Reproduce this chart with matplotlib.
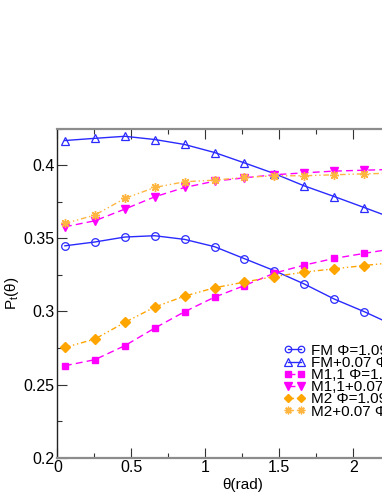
import matplotlib
matplotlib.use("Agg")
import matplotlib.pyplot as plt
from matplotlib.ticker import MultipleLocator, FixedLocator, FixedFormatter

plt.rcParams['font.family'] = ['Liberation Sans', 'DejaVu Sans']
plt.rcParams['mathtext.fontset'] = 'custom'
plt.rcParams['mathtext.rm'] = 'Liberation Sans'
plt.rcParams['mathtext.it'] = 'Liberation Sans'

theta = [0.05, 0.252, 0.455, 0.657, 0.859, 1.062, 1.264, 1.466, 1.668, 1.871, 2.073, 2.275]

fm = [0.3449, 0.3475, 0.3509, 0.3518, 0.3493, 0.3443, 0.3361, 0.3279, 0.3188, 0.3085, 0.2999, 0.2905]
fm_p = [0.4169, 0.4184, 0.4198, 0.4176, 0.4142, 0.4087, 0.4016, 0.3943, 0.3859, 0.3786, 0.3711, 0.3635]
m11 = [0.2629, 0.2670, 0.2766, 0.2886, 0.2998, 0.3098, 0.3177, 0.3262, 0.3317, 0.3363, 0.3397, 0.3430]
m11_p = [0.3579, 0.3620, 0.3700, 0.3784, 0.3848, 0.3891, 0.3914, 0.3935, 0.3948, 0.3960, 0.3966, 0.3972]
m2 = [0.2754, 0.2811, 0.2925, 0.3030, 0.3105, 0.3162, 0.3201, 0.3239, 0.3269, 0.3292, 0.3314, 0.3335]
m2_p = [0.3602, 0.3659, 0.3773, 0.3848, 0.3887, 0.3898, 0.3917, 0.3928, 0.3928, 0.3935, 0.3941, 0.3946]

labels = ["FM \u03a6=1.09", "FM+0.07 \u03a6=1.09", "M1,1 \u03a6=1.09",
          "M1,1+0.07 \u03a6=1.09", "M2 \u03a6=1.09", "M2+0.07 \u03a6=1.09"]

xticks = [0, 0.5, 1, 1.5, 2]
xticklabels = ["0", "0.5", "1", "1.5", "2"]
yticks = [0.2, 0.25, 0.3, 0.35, 0.4]
yticklabels = ["0.2", "0.25", "0.3", "0.35", "0.4"]

blue = '#2a2aff'
mag = '#ff00ff'
orange = '#ffa500'
lorange = '#ffb640'

fig = plt.figure(figsize=(3.82, 4.94), dpi=100)
ax = fig.add_axes([0.1505, 0.0735, 0.968, 0.666])

ax.plot(theta, fm, color=blue, lw=1.0, ls='-', marker='o', ms=5.5, mfc='none', mec=blue, mew=0.9, label=labels[0])
ax.plot(theta, fm_p, color=blue, lw=1.0, ls='-', marker='^', ms=6, mfc='none', mec=blue, mew=0.9, label=labels[1])
ax.plot(theta, m11, color=mag, lw=1.0, ls=(0, (5, 3)), marker='s', ms=5, mfc=mag, mec=mag, label=labels[2])
ax.plot(theta, m11_p, color=mag, lw=1.0, ls=(0, (5, 3)), marker='v', ms=6, mfc=mag, mec=mag, label=labels[3])
ax.plot(theta, m2, color=orange, lw=1.0, ls=(0, (4, 2, 1, 2, 1, 2)), marker='D', ms=5, mfc=orange, mec=orange, label=labels[4])
ax.plot(theta, m2_p, color=lorange, lw=1.0, ls=(0, (4, 2, 1, 2, 1, 2)), marker=(8, 2, 0), ms=6.5, mfc=lorange, mec=lorange, mew=1.0, label=labels[5])

ax.set_xlim(0, 2.5)
ax.set_ylim(0.2, 0.425)
ax.xaxis.set_major_locator(FixedLocator(xticks))
ax.xaxis.set_major_formatter(FixedFormatter(xticklabels))
ax.xaxis.set_minor_locator(MultipleLocator(0.25))
ax.yaxis.set_major_locator(FixedLocator(yticks))
ax.yaxis.set_major_formatter(FixedFormatter(yticklabels))
ax.yaxis.set_minor_locator(MultipleLocator(0.025))

ax.tick_params(which='both', direction='in', top=True, right=True, color='#333333', width=0.8, labelsize=11.5)
ax.tick_params(which='major', length=7, pad=2)
ax.tick_params(which='minor', length=3.5)

for s in ['top', 'bottom']:
    ax.spines[s].set_color('#8c8c8c')
    ax.spines[s].set_linewidth(1.6)
ax.spines['left'].set_color('#222222')
ax.spines['left'].set_linewidth(1.0)

ax.set_xlabel("\u03b8(rad)", fontsize=11, labelpad=2)
ax.set_ylabel("P$_\\mathrm{t}$(\u03b8)", fontsize=11, labelpad=2)

leg = fig.legend(loc='upper left', bbox_to_anchor=(0.741, 0.304), bbox_transform=fig.transFigure,
                 frameon=False, fontsize=11, numpoints=2, handlelength=1.45, handletextpad=0.35,
                 labelspacing=-0.12, borderpad=0, borderaxespad=0, markerscale=0.85)

fig.savefig("out.png", dpi=100)
